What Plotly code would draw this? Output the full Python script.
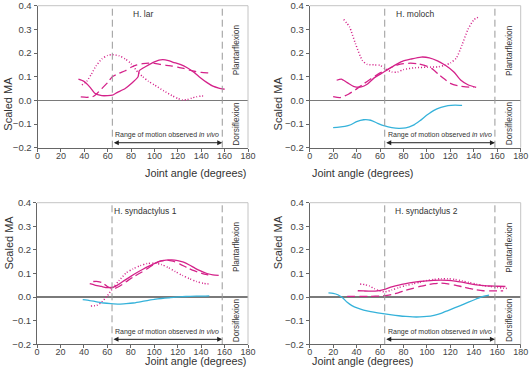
import plotly.graph_objects as go

# ---------------- data ----------------
x_ticks = [0, 20, 40, 60, 80, 100, 120, 140, 160, 180]
y_ticks = [-0.2, -0.1, 0.0, 0.1, 0.2, 0.3, 0.4]
panel_titles = ["H. lar", "H. moloch", "H. syndactylus 1", "H. syndactylus 2"]
rom_start = 64
rom_end = 158

# H. lar
lar_solid_x = [35, 40, 45, 49, 55, 60, 64, 68, 75, 80, 86, 87, 93, 100, 107, 112, 116, 122, 128, 134, 139, 145, 150, 155, 160]
lar_solid_y = [0.09, 0.08, 0.055, 0.03, 0.02, 0.02, 0.022, 0.033, 0.05, 0.07, 0.1, 0.125, 0.144, 0.163, 0.172, 0.168, 0.161, 0.152, 0.138, 0.118, 0.097, 0.075, 0.06, 0.052, 0.047]
lar_dash_x = [37, 42, 47, 50, 55, 60, 64, 70, 75, 80, 85, 90, 95, 100, 105, 110, 115, 120, 125, 130, 135, 140, 145, 149]
lar_dash_y = [0.015, 0.013, 0.015, 0.025, 0.05, 0.075, 0.1, 0.115, 0.125, 0.14, 0.15, 0.155, 0.157, 0.156, 0.152, 0.148, 0.145, 0.14, 0.135, 0.128, 0.122, 0.118, 0.116, 0.115]
lar_dot_x = [38, 42, 46, 50, 55, 60, 64, 70, 75, 80, 86, 90, 95, 100, 108, 115, 120, 124, 128, 132, 136, 140, 143]
lar_dot_y = [0.065, 0.08, 0.11, 0.145, 0.175, 0.19, 0.193, 0.188, 0.175, 0.155, 0.118, 0.1, 0.08, 0.065, 0.04, 0.02, 0.008, 0.002, 0.003, 0.01, 0.015, 0.018, 0.018]

# H. moloch
moloch_solid_x = [23, 27, 32, 38, 44, 49, 55, 60, 65, 72, 79, 86, 95, 102, 109, 116, 123, 129, 135, 142]
moloch_solid_y = [0.085, 0.09, 0.075, 0.058, 0.057, 0.068, 0.095, 0.11, 0.125, 0.147, 0.165, 0.174, 0.183, 0.18, 0.167, 0.147, 0.12, 0.085, 0.066, 0.055]
moloch_dash_x = [20, 26, 33, 39, 46, 52, 58, 65, 70, 75, 80, 86, 92, 98, 104, 110, 115, 120, 126, 133, 140]
moloch_dash_y = [0.016, 0.012, 0.026, 0.045, 0.07, 0.09, 0.11, 0.128, 0.14, 0.15, 0.155, 0.157, 0.155, 0.148, 0.135, 0.11, 0.09, 0.072, 0.062, 0.057, 0.055]
moloch_dot_x = [29, 34, 39, 45, 49, 55, 60, 65, 70, 75, 80, 90, 100, 110, 115, 120, 125, 130, 135, 140, 145]
moloch_dot_y = [0.342, 0.31, 0.24, 0.168, 0.152, 0.15, 0.148, 0.132, 0.12, 0.12, 0.13, 0.138, 0.14, 0.142, 0.148, 0.158, 0.178, 0.235, 0.3, 0.34, 0.355]
moloch_cyan_x = [20, 25, 30, 35, 40, 46, 52, 58, 64, 70, 76, 82, 88, 94, 100, 106, 112, 118, 124, 130]
moloch_cyan_y = [-0.115, -0.113, -0.11, -0.103, -0.09, -0.082, -0.084, -0.097, -0.108, -0.115, -0.118, -0.116, -0.106, -0.086, -0.062, -0.042, -0.03, -0.022, -0.02, -0.021]

# H. syndactylus 1
syn1_solid_x = [45, 50, 55, 60, 65, 70, 75, 80, 85, 90, 95, 100, 105, 110, 115, 120, 125, 130, 135, 140, 145, 150, 155]
syn1_solid_y = [0.057, 0.05, 0.045, 0.04, 0.042, 0.055, 0.072, 0.088, 0.103, 0.117, 0.13, 0.142, 0.152, 0.157, 0.158, 0.155, 0.148, 0.136, 0.122, 0.11, 0.1, 0.094, 0.092]
syn1_dash_x = [48, 52, 56, 60, 65, 70, 76, 82, 88, 94, 100, 106, 111, 116, 122, 128, 134, 140, 145, 148]
syn1_dash_y = [0.066, 0.066, 0.06, 0.045, 0.035, 0.045, 0.065, 0.085, 0.102, 0.12, 0.14, 0.153, 0.157, 0.152, 0.14, 0.125, 0.112, 0.102, 0.095, 0.092]
syn1_dot_x = [46, 51, 55, 60, 65, 70, 76, 82, 88, 94, 100, 106, 112, 118, 124, 130, 136, 142, 148]
syn1_dot_y = [-0.038, -0.035, -0.022, 0.005, 0.04, 0.07, 0.102, 0.12, 0.133, 0.142, 0.144, 0.138, 0.125, 0.108, 0.092, 0.078, 0.066, 0.058, 0.055]
syn1_cyan_x = [39, 45, 51, 57, 63, 70, 76, 82, 88, 94, 100, 106, 112, 118, 124, 130, 136, 142, 147]
syn1_cyan_y = [-0.011, -0.015, -0.02, -0.025, -0.028, -0.03, -0.028, -0.025, -0.02, -0.015, -0.01, -0.006, -0.003, 0.0, 0.002, 0.003, 0.004, 0.004, 0.005]

# H. syndactylus 2
syn2_solid_x = [41, 46, 52, 58, 64, 70, 76, 82, 88, 94, 100, 106, 112, 118, 124, 130, 136, 142, 148, 154, 160, 167]
syn2_solid_y = [0.027, 0.026, 0.025, 0.026, 0.033, 0.043, 0.051, 0.057, 0.062, 0.066, 0.069, 0.071, 0.072, 0.071, 0.068, 0.063, 0.057, 0.052, 0.049, 0.047, 0.046, 0.045]
syn2_dash_x = [32, 38, 44, 50, 56, 62, 66, 70, 76, 82, 88, 94, 100, 106, 112, 118, 124, 130, 136, 142, 148, 154, 160, 165]
syn2_dash_y = [0.003, 0.003, 0.003, 0.003, 0.004, 0.005, 0.007, 0.011, 0.019, 0.029, 0.037, 0.045, 0.052, 0.057, 0.059, 0.056, 0.051, 0.044, 0.037, 0.031, 0.027, 0.026, 0.026, 0.026]
syn2_dot_x = [43, 47, 51, 55, 60, 64, 70, 76, 82, 88, 94, 100, 106, 112, 118, 124, 130, 136, 142, 148, 154, 160, 165, 170]
syn2_dot_y = [0.055, 0.053, 0.047, 0.036, 0.025, 0.022, 0.03, 0.04, 0.049, 0.056, 0.063, 0.07, 0.075, 0.078, 0.078, 0.075, 0.069, 0.062, 0.055, 0.049, 0.045, 0.041, 0.038, 0.036]
syn2_cyan_x = [16, 20, 24, 28, 32, 36, 41, 46, 52, 58, 64, 70, 76, 82, 88, 94, 100, 106, 112, 118, 124, 130, 136, 142, 148, 153]
syn2_cyan_y = [0.018, 0.016, 0.01, -0.003, -0.022, -0.036, -0.047, -0.055, -0.062, -0.067, -0.071, -0.075, -0.079, -0.082, -0.084, -0.084, -0.082, -0.077, -0.069, -0.057, -0.045, -0.033, -0.02, -0.008, 0.003, 0.008]

# ---------------- styling ----------------
W, H = 529, 384   # window is 374 tall; the extra paper below is simply off-screen
MAGENTA = "#d4228a"
CYAN = "#35b2da"
FONT = "Liberation Sans, Arial, sans-serif"
TXT = "#333333"

# panel pixel boxes: (left, right, top, bottom)
boxes = [
    (37.5, 248.0, 5.7, 147.7),
    (309.7, 520.7, 5.7, 147.7),
    (37.0, 248.0, 202.7, 344.3),
    (309.7, 520.7, 202.7, 344.3),
]
title_x = [90, 90.4, 92.4, 100]
xtitle_gap = [25, 25, 25, 25]

panels = [
    [(lar_solid_x, lar_solid_y, "solid", MAGENTA),
     (lar_dash_x, lar_dash_y, "dash", MAGENTA),
     (lar_dot_x, lar_dot_y, "dot", MAGENTA)],
    [(moloch_solid_x, moloch_solid_y, "solid", MAGENTA),
     (moloch_dash_x, moloch_dash_y, "dash", MAGENTA),
     (moloch_dot_x, moloch_dot_y, "dot", MAGENTA),
     (moloch_cyan_x, moloch_cyan_y, "solid", CYAN)],
    [(syn1_solid_x, syn1_solid_y, "solid", MAGENTA),
     (syn1_dash_x, syn1_dash_y, "dash", MAGENTA),
     (syn1_dot_x, syn1_dot_y, "dot", MAGENTA),
     (syn1_cyan_x, syn1_cyan_y, "solid", CYAN)],
    [(syn2_solid_x, syn2_solid_y, "solid", MAGENTA),
     (syn2_dash_x, syn2_dash_y, "dash", MAGENTA),
     (syn2_dot_x, syn2_dot_y, "dot", MAGENTA),
     (syn2_cyan_x, syn2_cyan_y, "solid", CYAN)],
]

fig = go.Figure()
layout = dict(
    template="none",
    width=W, height=H, autosize=False,
    margin=dict(l=0, r=0, t=0, b=0, pad=0, autoexpand=False),
    paper_bgcolor="white", plot_bgcolor="white",
    showlegend=False,
    font=dict(family=FONT, color=TXT),
    shapes=[], annotations=[],
)

for i, (box, series) in enumerate(zip(boxes, panels)):
    n = i + 1
    xa = "x" if n == 1 else f"x{n}"
    ya = "y" if n == 1 else f"y{n}"
    xkey = "xaxis" if n == 1 else f"xaxis{n}"
    ykey = "yaxis" if n == 1 else f"yaxis{n}"
    left, right, top, bottom = box
    layout[xkey] = dict(
        domain=[left / W, right / W], anchor=ya, range=[0, 180], automargin=False,
        tickvals=x_ticks, ticks="outside", ticklen=3, tickcolor="#666", ticklabelstandoff=-4,
        showline=True, linecolor="#666", linewidth=1, showgrid=False, zeroline=False,
        tickfont=dict(size=9, color="#444"), fixedrange=True,
    )
    layout[ykey] = dict(
        domain=[1 - bottom / H, 1 - top / H], anchor=xa, range=[-0.2, 0.4], automargin=False,
        tickvals=y_ticks, tickformat=".1f", ticks="outside", ticklen=3, tickcolor="#666",
        showline=True, linecolor="#666", linewidth=1, showgrid=False,
        zeroline=True, zerolinecolor="#7a7a7a", zerolinewidth=1.6,
        tickfont=dict(size=9.5, color="#444"), fixedrange=True,
    )
    # light frame on top and right
    layout["shapes"].append(dict(type="line", xref=f"{xa} domain", yref=f"{ya} domain",
                                 x0=0, x1=1, y0=1, y1=1, line=dict(color="#c4c4c4", width=1)))
    layout["shapes"].append(dict(type="line", xref=f"{xa} domain", yref=f"{ya} domain",
                                 x0=1, x1=1, y0=0, y1=1, line=dict(color="#c4c4c4", width=1)))
    # range-of-motion dashed verticals
    for xv in (rom_start, rom_end):
        layout["shapes"].append(dict(type="line", xref=xa, yref=ya, x0=xv, x1=xv, y0=-0.2, y1=0.4,
                                     line=dict(color="#999999", width=1, dash="7px,4px")))
    for xs, ys, dash, col in series:
        fig.add_trace(go.Scatter(
            x=xs, y=ys, mode="lines", xaxis=xa, yaxis=ya,
            line=dict(color=col, width=1.3 if dash != "dot" else 1.5,
                      dash={"solid": "solid", "dash": "8px,4px", "dot": "1px,2px"}[dash],
                      shape="spline", smoothing=0.6),
            hoverinfo="skip",
        ))
    ann = layout["annotations"]
    ann.append(dict(text=panel_titles[i], x=title_x[i], y=0.365, xref=xa, yref=ya,
                    showarrow=False, font=dict(size=8.5, color=TXT)))
    ann.append(dict(text="Plantarflexion", x=170, y=0.213, xref=xa, yref=ya, textangle=-90,
                    showarrow=False, font=dict(size=8.3, color=TXT)))
    ann.append(dict(text="Dorsiflexion", x=170, y=-0.097, xref=xa, yref=ya, textangle=-90,
                    showarrow=False, font=dict(size=8.3, color=TXT)))
    ann.append(dict(text="Range of motion observed <i>in vivo</i>", x=(rom_start + rom_end) / 2,
                    y=-0.146, xref=xa, yref=ya, showarrow=False, font=dict(size=7, color=TXT)))
    ann.append(dict(text="", x=rom_end, y=-0.179, ax=rom_start, ay=-0.179, xref=xa, yref=ya,
                    axref=xa, ayref=ya, showarrow=True, arrowhead=2, arrowside="end+start",
                    arrowsize=1, arrowwidth=1, arrowcolor="#222"))
    # axis titles
    ann.append(dict(text="Joint angle (degrees)", x=(left + right) / 2 / W,
                    y=1 - (bottom + xtitle_gap[i]) / H,
                    xref="paper", yref="paper", showarrow=False, font=dict(size=10.8, color=TXT)))
    ycen = 1 - ((top + bottom) / 2 - 2) / H
    if left - 31 < 8:
        ann.append(dict(text="Scaled MA", x=0.0, xanchor="left", y=ycen,
                        xref="paper", yref="paper", textangle=-90, showarrow=False,
                        font=dict(size=11, color=TXT)))
    else:
        ann.append(dict(text="Scaled MA", x=(left - 32) / W, y=ycen,
                        xref="paper", yref="paper", textangle=-90, showarrow=False,
                        font=dict(size=11, color=TXT)))

fig.update_layout(**layout)
fig.write_html("out.html",
               config={"displayModeBar": False, "staticPlot": True},
               post_script="document.body.style.margin='0';document.body.style.overflow='hidden';")
